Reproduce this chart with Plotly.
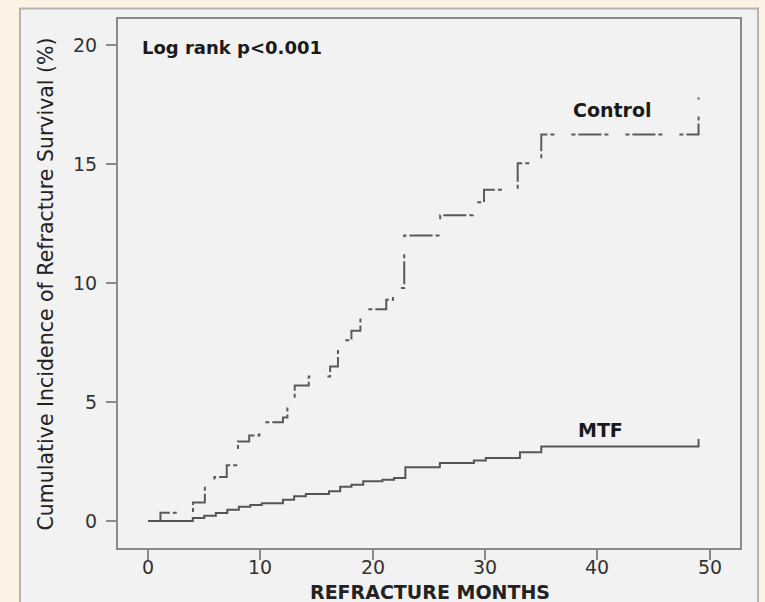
import plotly.graph_objects as go

# Control group: step times (months) and cumulative incidence (%)
control_months = [0, 1.1, 4.0, 5.05, 5.9, 7.0, 8.0, 9.0, 9.9, 12.0, 12.4, 13.05, 14.3,
                  16.2, 16.9, 18.1, 18.9, 21.2, 21.8, 22.8, 26.0, 28.9, 29.9, 32.9, 35.0, 49.0]
control_values = [0, 0.35, 0.78, 1.4, 1.85, 2.35, 3.35, 3.6, 4.15, 4.35, 4.9, 5.7, 6.08,
                  6.5, 7.6, 8.0, 8.9, 9.3, 9.8, 12.0, 12.85, 13.4, 13.92, 15.04, 16.25, 17.8]

# MTF group
mtf_months = [0, 3.98, 5.0, 6.03, 7.05, 8.08, 9.1, 10.12, 12.0, 13.0, 14.04, 16.1, 17.1,
              18.1, 19.15, 20.86, 21.9, 22.9, 25.97, 29.0, 30.06, 33.1, 35.0, 49.0]
mtf_values = [0, 0.13, 0.23, 0.34, 0.48, 0.60, 0.68, 0.75, 0.90, 1.04, 1.14, 1.25, 1.44,
              1.53, 1.67, 1.74, 1.81, 2.26, 2.44, 2.55, 2.65, 2.89, 3.14, 3.45]

x_ticks = [0, 10, 20, 30, 40, 50]
x_tick_labels = ["0", "10", "20", "30", "40", "50"]
y_ticks = [0, 5, 10, 15, 20]
y_tick_labels = ["0", "5", "10", "15", "20"]

FONT = "DejaVu Sans, Liberation Sans, Arial, sans-serif"
AX = "#8a8a8a"
BG = "#fdf3e4"

fig = go.Figure()
fig.add_trace(go.Scatter(
    x=control_months, y=control_values, mode="lines", line_shape="hv",
    line=dict(color="#5a5a5a", width=2, dash="4px,3px,23px,3px,4px,17px"),
    name="Control", showlegend=False, hoverinfo="skip"))
fig.add_trace(go.Scatter(
    x=mtf_months, y=mtf_values, mode="lines", line_shape="hv",
    line=dict(color="#555555", width=2),
    name="MTF", showlegend=False, hoverinfo="skip"))

fig.update_layout(
    width=765, height=602,
    margin=dict(l=118, r=25, t=19, b=54),
    paper_bgcolor=BG,
    plot_bgcolor="#f2f2f2",
    font=dict(family=FONT, size=19, color="#333333"),
    showlegend=False,
)
fig.update_xaxes(
    range=[-2.68, 52.69], tickvals=x_ticks, showticklabels=False,
    showgrid=False, zeroline=False, showline=True, mirror=True,
    linecolor=AX, linewidth=2, ticks="outside", ticklen=10, tickwidth=2, tickcolor=AX)
fig.update_yaxes(
    range=[-1.13, 21.1], tickvals=y_ticks, ticktext=y_tick_labels,
    showgrid=False, zeroline=False, showline=True, mirror=True,
    linecolor=AX, linewidth=2, ticks="outside", ticklen=10, tickwidth=2, tickcolor=AX,
    ticklabelstandoff=5,
    tickfont=dict(family=FONT, size=19, color="#333333"))

# x tick labels placed at the axis' own tick positions
for v, lab in zip(x_ticks, x_tick_labels):
    fig.add_annotation(x=v, y=-0.036, xref="x", yref="paper", text=lab,
                       showarrow=False, xanchor="center", yanchor="middle",
                       font=dict(family=FONT, size=19, color="#333333"))

# grey panel behind the chart
fig.add_shape(type="rect", xref="paper", yref="paper",
              x0=-0.1576, x1=1.029, y0=-0.3, y1=1.0199,
              fillcolor="#f2f2f2", line=dict(color="#b4b4b4", width=2), layer="below")

fig.add_annotation(x=-0.75, y=19.89, xref="x", yref="y", text="<b>Log rank p<0.001</b>",
                   showarrow=False, xanchor="left", yanchor="middle",
                   font=dict(family=FONT, size=18, color="#1a1a1a"))
fig.add_annotation(x=41.37, y=17.28, xref="x", yref="y", text="<b>Control</b>",
                   showarrow=False, xanchor="center", yanchor="middle",
                   font=dict(family=FONT, size=19, color="#1a1a1a"))
fig.add_annotation(x=40.3, y=3.84, xref="x", yref="y", text="<b>MTF</b>",
                   showarrow=False, xanchor="center", yanchor="middle",
                   font=dict(family=FONT, size=19, color="#1a1a1a"))
fig.add_annotation(x=-0.1158, y=0.5, xref="paper", yref="paper",
                   text="Cumulative Incidence of Refracture Survival (%)", textangle=-90,
                   showarrow=False, xanchor="center", yanchor="middle",
                   font=dict(family=FONT, size=20.5, color="#222222"))
fig.add_annotation(x=0.5016, y=-0.0826, xref="paper", yref="paper",
                   text="<b>REFRACTURE MONTHS</b>",
                   showarrow=False, xanchor="center", yanchor="middle",
                   font=dict(family=FONT, size=19, color="#222222"))

fig.write_html(
    "out.html",
    config={"displayModeBar": False},
    post_script="document.body.style.margin='0';document.body.style.background='" + BG + "';",
)
